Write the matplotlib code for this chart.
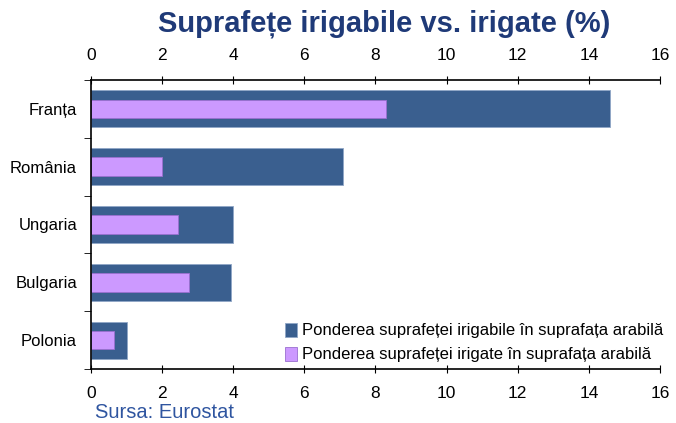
import matplotlib.pyplot as plt
import numpy as np

tari = ["Franța", "România", "Ungaria", "Bulgaria", "Polonia"]
irigabile = [14.6, 7.1, 4.0, 3.95, 1.0]
irigate = [8.3, 2.0, 2.45, 2.75, 0.65]

col_dark = "#3A5F8F"
col_lila = "#CC99FF"
col_titlu = "#1F3A78"

plt.rcParams['font.family'] = ['Liberation Sans', 'DejaVu Sans']

fig = plt.figure(figsize=(6.76, 4.23), dpi=100)
ax = fig.add_axes([0.1346, 0.1277, 0.8417, 0.6832])

y = np.arange(len(tari))
ax.barh(y, irigabile, height=0.64, color=col_dark, edgecolor="#8FA6C6", linewidth=0.6,
        label="Ponderea suprafeței irigabile în suprafața arabilă")
ax.barh(y, irigate, height=0.32, color=col_lila, edgecolor="#9A6FD0", linewidth=0.6,
        label="Ponderea suprafeței irigate în suprafața arabilă")

ax.set_xlim(0, 16)
ax.set_ylim(len(tari) - 0.5, -0.5)
ax.set_xticks(range(0, 17, 2))
ax.set_yticks(y)
ax.set_yticklabels(tari)
ax.set_yticks(np.arange(-0.5, len(tari), 1), minor=True)
ax.tick_params(axis='y', which='major', length=0, labelsize=12, pad=10)
ax.tick_params(axis='y', which='minor', length=5, direction='out')
ax.tick_params(axis='x', top=True, labeltop=True, labelbottom=True, direction='inout',
               length=6, labelsize=12.5, pad=9)
ax.spines['right'].set_visible(False)
for s in ['top', 'bottom', 'left']:
    ax.spines[s].set_linewidth(1.2)

fig.text(0.569, 0.944, "Suprafețe irigabile vs. irigate (%)", ha='center', va='center',
         fontsize=21, fontweight='bold', color=col_titlu)
fig.text(0.14, 0.025, "Sursa: Eurostat", ha='left', va='center', fontsize=14.5,
         color="#2F55A0")

ax.legend(loc='lower right', bbox_to_anchor=(1.024, -0.012), frameon=False, fontsize=12,
          handlelength=0.75, handleheight=0.9, handletextpad=0.3, labelspacing=0.5,
          borderaxespad=0.2)

fig.savefig("out.png", dpi=100)
